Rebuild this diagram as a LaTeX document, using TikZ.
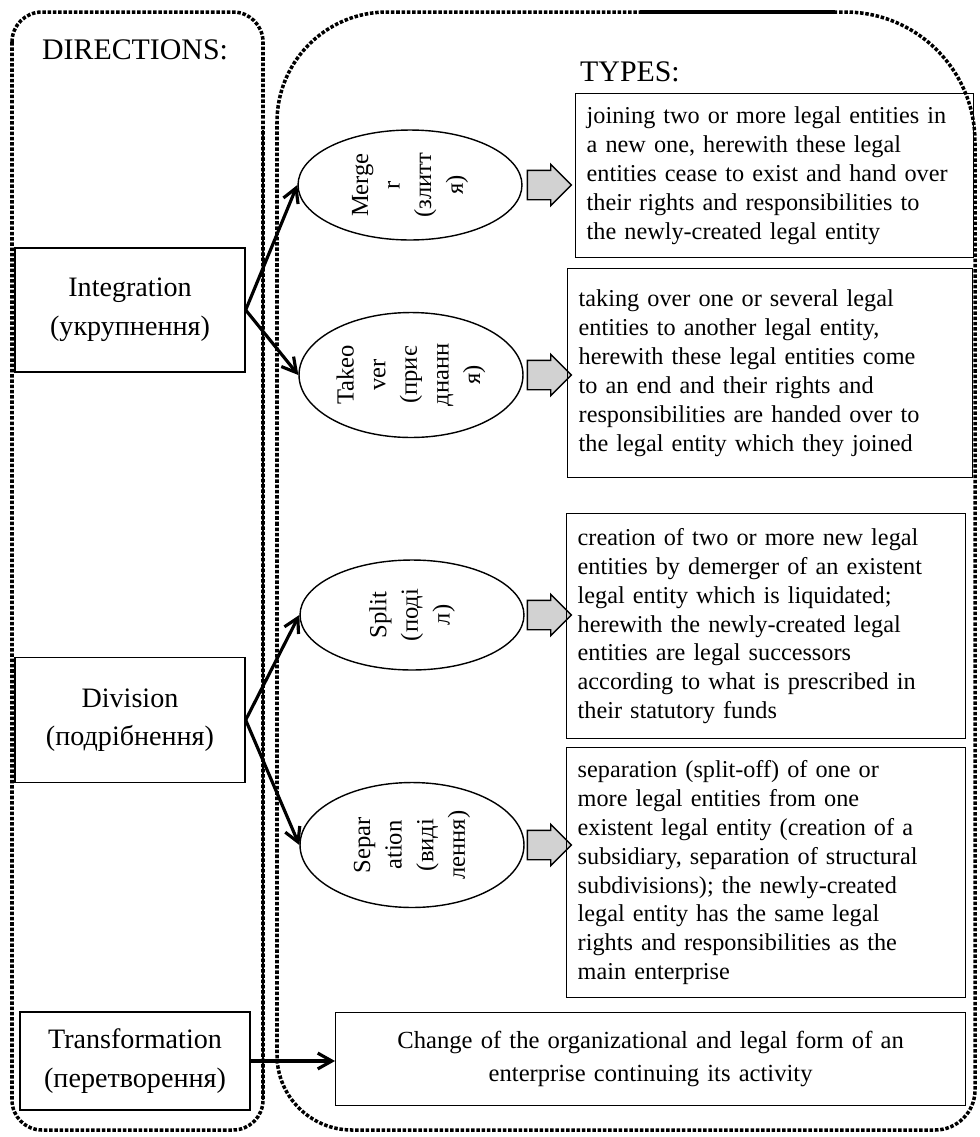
\documentclass[tikz,border=0pt]{standalone}
\usepackage{fontspec}
\setmainfont{Liberation Serif}
\usetikzlibrary{arrows.meta,shapes.geometric,shapes.arrows}

\tikzset{
  frame/.style={line width=2pt, densely dotted},
  dirbox/.style={draw, line width=0.8pt, minimum width=4.6cm, align=center,
    font=\fontsize{16}{22}\selectfont},
  typeell/.style={draw, ellipse, line width=0.8pt, minimum width=4.48cm, inner sep=0pt},
  typetext/.style={rotate=90, align=center, font=\fontsize{14}{18}\selectfont},
  descbox/.style={draw, line width=0.8pt, anchor=north west, align=left,
    inner xsep=0.22cm, font=\fontsize{13.8}{16.4}\selectfont},
  fatarrow/.style={single arrow, draw, fill=gray!35, line width=0.8pt,
    minimum height=0.76cm, inner sep=0.28cm, single arrow head extend=0.12cm},
  conn/.style={-{Straight Barb[length=8pt,width=9pt]}, line width=1.8pt},
  heading/.style={font=\fontsize{17}{20}\selectfont}
}

\begin{document}
\begin{tikzpicture}[x=0.02cm,y=-0.02cm]
\useasboundingbox (0,0) rectangle (980,1137);
% ---- frames ----
\draw[frame, rounded corners=0.6cm] (12,12) rectangle (263,1130);
\draw[line width=1.2pt] (263,130) -- (263,1100);
\draw[frame] (277,600) [rounded corners=2.2cm] -- (277,12) [rounded corners=2.6cm] -- (975,12)
  [rounded corners=0.8cm] -- (975,1130) [rounded corners=1.5cm] -- (277,1130) -- cycle;
\draw[line width=2pt] (640,12) -- (835,12);
\node[heading] (dirs) at (135,50) {DIRECTIONS:};
\node[heading] (types) at (630,72) {TYPES:};
% ---- directions ----
\node[dirbox, minimum height=2.48cm] (integ) at (130,310) {Integration\\(укрупнення)};
\node[dirbox, minimum height=2.5cm] (divis) at (130,720) {Division\\(подрібнення)};
\node[dirbox, minimum height=1.96cm] (trans) at (135,1061) {Transformation\\(перетворення)};
% ---- types ----
\node[typeell, minimum height=2.2cm] (merger) at (410,185) {};
\node[typetext] at (merger) {Merge\\r\\(злитт\\я)};
\node[typeell, minimum height=2.5cm] (takeover) at (411,375) {};
\node[typetext] at (takeover) {Takeo\\ver\\(приє\\днанн\\я)};
\node[typeell, minimum height=2.2cm] (split) at (412,615) {};
\node[typetext] at (split) {Split\\(поді\\л)};
\node[typeell, minimum height=2.5cm] (separ) at (412,845) {};
\node[typetext] at (separ) {Separ\\ation\\(виді\\лення)};
\foreach \e/\y in {merger/185,takeover/375,split/615,separ/845}
  \node[fatarrow] (arr\e) at (542,\y) {};
% ---- descriptions ----
\node[descbox, text width=7.52cm, minimum height=3.28cm] (dmerger) at (575,93)
  {joining two or more legal entities in\\ a new one, herewith these legal\\
   entities cease to exist and hand over\\ their rights and responsibilities to\\
   the newly-created legal entity};
\node[descbox, text width=7.66cm, minimum height=4.18cm] (dtakeover) at (567,268)
  {taking over one or several legal\\ entities to another legal entity,\\
   herewith these legal entities come\\ to an end and their rights and\\
   responsibilities are handed over to\\ the legal entity which they joined\\[0.6em]};
\node[descbox, text width=7.54cm, minimum height=4.5cm] (dsplit) at (566,513)
  {creation of two or more new legal\\ entities by demerger of an existent\\
   legal entity which is liquidated;\\ herewith the newly-created legal\\
   entities are legal successors\\ according to what is prescribed in\\
   their statutory funds};
\node[descbox, text width=7.54cm, minimum height=5cm] (dsepar) at (566,747)
  {separation (split-off) of one or\\ more legal entities from one\\
   existent legal entity (creation of a\\ subsidiary, separation of structural\\
   subdivisions); the newly-created\\ legal entity has the same legal\\
   rights and responsibilities as the\\ main enterprise};
\node[descbox, align=center, text width=12.16cm, minimum height=1.86cm,
  font=\fontsize{14}{19}\selectfont] (dtrans) at (335,1012)
  {Change of the organizational and legal form of an\\ enterprise continuing its activity};
% ---- connectors ----
\draw[conn] (integ.east) -- (merger.west);
\draw[conn] (integ.east) -- (takeover.west);
\draw[conn] (divis.east) -- (split.west);
\draw[conn] (divis.east) -- (separ.west);
\draw[conn] (trans.east) -- (trans.east -| dtrans.west);
\end{tikzpicture}
\end{document}
